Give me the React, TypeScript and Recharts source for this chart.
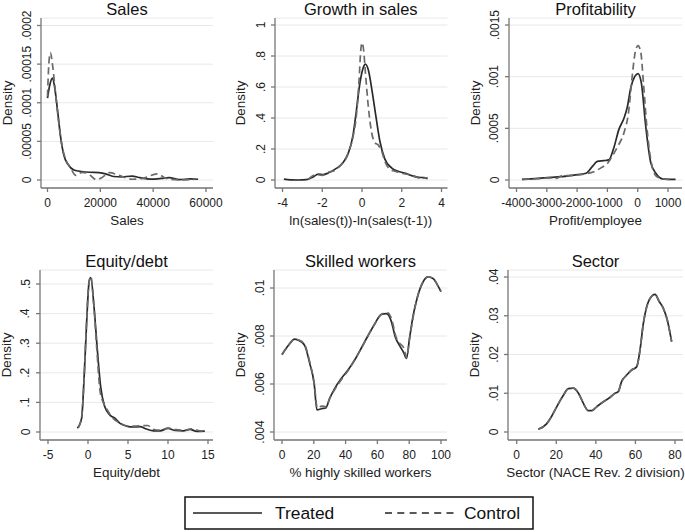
import { LineChart, Line, XAxis, YAxis, CartesianGrid } from 'recharts';

const FONT = '"Liberation Sans", Arial, Helvetica, sans-serif';

// density estimates: [x, density]
const salesTreated: [number, number][] = [
  [0, 0.000106], [800, 0.000122], [1900, 0.000132], [2800, 0.000118], [3800, 0.00009],
  [5000, 0.000055], [6200, 0.000032], [7800, 0.00002], [10000, 0.000013], [13000, 0.000011],
  [16000, 0.00001], [19500, 0.0000095], [22000, 0.000008], [25000, 0.0000045], [28000, 0.000004],
  [32000, 0.000005], [35000, 0.000003], [39000, 0.0000012], [43000, 0.000002], [46000, 0.000003],
  [50000, 0.0000005], [54000, 0.0000015], [57000, 0.000001],
];
const salesControl: [number, number][] = [
  [0, 0.000108], [500, 0.00015], [1100, 0.000165], [1800, 0.000152], [2700, 0.000124],
  [3900, 0.000085], [5200, 0.00005], [6800, 0.000027], [8500, 0.000017], [10800, 0.000006],
  [13000, 0.00001], [15500, 0.000008], [18500, 0.0000005], [20500, 0.000003], [23500, 0.0000095],
  [27000, 0.000006], [32000, 0.000001], [36000, 0.000002], [41500, 0.000008], [45000, 0.000002],
  [50000, 0.0000002], [56000, 0.000001],
];

const growthTreated: [number, number][] = [
  [-3.93, 0.006], [-3.6, 0.001], [-3.2, 0], [-2.8, 0.002], [-2.45, 0.02], [-2.2, 0.038],
  [-1.95, 0.035], [-1.7, 0.045], [-1.35, 0.07], [-1.0, 0.105], [-0.7, 0.17], [-0.45, 0.29],
  [-0.28, 0.45], [-0.1, 0.63], [0.05, 0.72], [0.17, 0.748], [0.32, 0.71], [0.5, 0.58],
  [0.7, 0.41], [0.9, 0.25], [1.15, 0.135], [1.5, 0.077], [1.85, 0.055], [2.2, 0.043],
  [2.5, 0.028], [2.85, 0.017], [3.1, 0.015], [3.3, 0.009],
];
const growthControl: [number, number][] = [
  [-2.7, 0.005], [-2.3, 0.035], [-2.0, 0.03], [-1.7, 0.05], [-1.4, 0.06], [-1.05, 0.1],
  [-0.7, 0.17], [-0.45, 0.28], [-0.28, 0.42], [-0.15, 0.64], [-0.06, 0.84], [0, 0.885],
  [0.07, 0.85], [0.18, 0.68], [0.32, 0.47], [0.48, 0.31], [0.65, 0.24], [0.82, 0.225],
  [0.98, 0.19], [1.15, 0.12], [1.4, 0.07], [1.7, 0.055], [2.05, 0.042], [2.35, 0.035],
  [2.7, 0.02], [3.0, 0.01], [3.3, 0.016],
];

const profitTreated: [number, number][] = [
  [-3820, 0.000007], [-3300, 0.000015], [-2880, 0.000026], [-2550, 0.000032], [-2100, 0.000048],
  [-1700, 0.000065], [-1500, 0.00013], [-1330, 0.00018], [-1120, 0.000187], [-950, 0.000195],
  [-790, 0.00031], [-620, 0.00049], [-450, 0.0006], [-340, 0.00071], [-230, 0.00089],
  [-100, 0.001], [10, 0.00103], [120, 0.00094], [265, 0.00052], [430, 0.00017],
  [600, 0.000065], [820, 0.00001], [1000, 0.000007], [1250, 0.000006],
];
const profitControl: [number, number][] = [
  [-3800, 0.000006], [-3300, 0.000012], [-2900, 0.00002], [-2700, 0.000015], [-2500, 0.00004],
  [-2100, 0.000045], [-1700, 0.00006], [-1450, 0.00008], [-1200, 0.00012], [-1000, 0.00016],
  [-800, 0.00025], [-650, 0.00033], [-450, 0.00046], [-300, 0.00066], [-190, 0.00098],
  [-80, 0.00124], [10, 0.0013], [100, 0.00124], [190, 0.00094], [300, 0.00052],
  [430, 0.0002], [600, 0.00004], [850, 0.00001], [1150, 0.000006],
];

const equityTreated: [number, number][] = [
  [-1.33, 0.0125], [-0.8, 0.046], [-0.5, 0.176], [-0.17, 0.37], [0.15, 0.51], [0.35, 0.522],
  [0.75, 0.423], [1.17, 0.277], [1.58, 0.153], [2.1, 0.085], [2.75, 0.057], [3.4, 0.046],
  [4.0, 0.029], [4.8, 0.02], [5.7, 0.017], [6.5, 0.018], [7.3, 0.01], [8.2, 0.004],
  [9.0, 0.004], [10.0, 0.012], [10.9, 0.005], [11.9, 0.004], [12.75, 0.009], [13.6, 0.002],
  [14.6, 0.003],
];
const equityControl: [number, number][] = [
  [-1.2, 0.015], [-0.8, 0.05], [-0.5, 0.17], [-0.2, 0.36], [0.1, 0.5], [0.35, 0.525],
  [0.7, 0.44], [1.1, 0.28], [1.5, 0.14], [1.9, 0.1], [2.4, 0.075], [3.0, 0.05], [4.0, 0.03],
  [5.0, 0.02], [6.0, 0.02], [7.5, 0.022], [8.0, 0.01], [9.0, 0.006], [10.0, 0.013],
  [11.0, 0.008], [12.0, 0.006], [13.0, 0.011], [14.0, 0.004], [14.8, 0.004],
];

const skilledTreated: [number, number][] = [
  [0, 0.00722], [3.8, 0.00759], [8, 0.00787], [11, 0.0078], [14.3, 0.0076], [17.4, 0.00687],
  [20.2, 0.00603], [22, 0.00492], [24.8, 0.00497], [27.5, 0.005], [30, 0.0054], [33, 0.0058],
  [37.3, 0.00623], [41.5, 0.00658], [45.7, 0.007], [49.9, 0.0075], [54, 0.008], [58.3, 0.0085],
  [62.5, 0.0089], [65.7, 0.00893], [68.8, 0.0086], [71.3, 0.00795], [74, 0.0076], [76.6, 0.0073],
  [78.3, 0.00707], [80.3, 0.00795], [82.5, 0.00886], [85.5, 0.0097], [88.7, 0.01025],
  [91.8, 0.01046], [95, 0.0104], [98, 0.0101], [100, 0.00985],
];
const skilledControl: [number, number][] = [
  [0, 0.00724], [4, 0.0076], [8, 0.00786], [11, 0.00782], [14.5, 0.0076], [17.5, 0.0069],
  [20.3, 0.006], [22.2, 0.005], [25, 0.00508], [27.7, 0.00505], [30, 0.0054], [33, 0.00575],
  [37.5, 0.0062], [41.5, 0.00655], [45.7, 0.007], [50, 0.0075], [54, 0.008], [58.3, 0.0085],
  [62.5, 0.0089], [66, 0.00898], [69, 0.0087], [71.5, 0.008], [74, 0.0077], [76.6, 0.0075],
  [78.3, 0.0071], [80.3, 0.0079], [82.5, 0.0088], [85.5, 0.0097], [88.7, 0.01025],
  [91.8, 0.01046], [95, 0.0104], [98, 0.0101], [100, 0.00985],
];

// treated and control lie on top of each other here
const sectorTreated: [number, number][] = [
  [10.9, 0.0007], [15.1, 0.0021], [17.6, 0.004], [20.2, 0.0065], [23.6, 0.0095], [26.1, 0.0112],
  [28.6, 0.0113], [31.2, 0.01], [33.7, 0.0074], [36.2, 0.0055], [37.9, 0.0055], [40.4, 0.0065],
  [43.8, 0.0078], [47.1, 0.0089], [49.7, 0.01], [51.3, 0.0104], [53, 0.013], [55.6, 0.0147],
  [58.1, 0.016], [60.6, 0.0168], [62.3, 0.0211], [64, 0.028], [65.7, 0.0323], [67.3, 0.0344],
  [69.9, 0.0355], [72.1, 0.0336], [74.1, 0.0319], [76.1, 0.0289], [78.3, 0.0233],
];
const sectorControl = sectorTreated;

const toPts = (arr: [number, number][]) => arr.map(([x, y]) => ({ x, y }));
const dotFmt = (v: number) => (v === 0 ? '0' : String(v).replace(/^(-?)0\./, '$1.'));
const lin = (c: number[], p: number) => c[0] + ((p - c[1]) * (c[2] - c[0])) / (c[3] - c[1]);

const panels = [
  {
    title: 'Sales', xLabel: 'Sales', treated: salesTreated, control: salesControl,
    xTicks: [0, 20000, 40000, 60000], yTicks: [0, 0.00005, 0.0001, 0.00015, 0.0002],
    box: { x0: 41, x1: 213, y0: 18, y1: 188 }, xCal: [0, 47.5, 60000, 206], yCal: [0, 180, 0.0002, 25.5],
  },
  {
    title: 'Growth in sales', xLabel: 'ln(sales(t))-ln(sales(t-1))', treated: growthTreated, control: growthControl,
    xTicks: [-4, -2, 0, 2, 4], yTicks: [0, 0.2, 0.4, 0.6, 0.8, 1],
    box: { x0: 274.5, x1: 447, y0: 18, y1: 188 }, xCal: [-4, 282, 4, 441], yCal: [0, 180, 1, 25],
  },
  {
    title: 'Profitability', xLabel: 'Profit/employee', treated: profitTreated, control: profitControl,
    xTicks: [-4000, -3000, -2000, -1000, 0, 1000], yTicks: [0, 0.0005, 0.001, 0.0015],
    box: { x0: 509, x1: 682, y0: 18, y1: 188 }, xCal: [-4000, 516.5, 1000, 668], yCal: [0, 180, 0.0015, 25],
  },
  {
    title: 'Equity/debt', xLabel: 'Equity/debt', treated: equityTreated, control: equityControl,
    xTicks: [-5, 0, 5, 10, 15], yTicks: [0, 0.1, 0.2, 0.3, 0.4, 0.5],
    box: { x0: 40, x1: 213, y0: 270, y1: 440 }, xCal: [-5, 48, 15, 208], yCal: [0, 432, 0.5, 284],
  },
  {
    title: 'Skilled workers', xLabel: '% highly skilled workers', treated: skilledTreated, control: skilledControl,
    xTicks: [0, 20, 40, 60, 80, 100], yTicks: [0.004, 0.006, 0.008, 0.01],
    box: { x0: 274, x1: 447, y0: 270, y1: 440 }, xCal: [0, 282, 100, 441], yCal: [0.004, 432, 0.01, 288],
  },
  {
    title: 'Sector', xLabel: 'Sector (NACE Rev. 2 division)', treated: sectorTreated, control: sectorControl,
    xTicks: [0, 20, 40, 60, 80], yTicks: [0, 0.01, 0.02, 0.03, 0.04],
    box: { x0: 508, x1: 683, y0: 270, y1: 440 }, xCal: [0, 516.7, 80, 675], yCal: [0, 432, 0.04, 277],
  },
];

function RotTick(props: any) {
  const { x, y, payload } = props;
  return (
    <text x={x} y={y} transform={`rotate(-90 ${x} ${y})`} textAnchor="middle" fontSize={12} fill="#222" fontFamily={FONT}>
      {dotFmt(payload.value)}
    </text>
  );
}

const PAD_L = 40;
const PAD_T = 18;
const PAD_R = 20;
const PAD_B = 25;

function Panel({ p }: { p: (typeof panels)[number] }) {
  const { x0, x1, y0, y1 } = p.box;
  const xDomain = [lin(p.xCal, x0), lin(p.xCal, x1)];
  const yDomain = [lin(p.yCal, y1), lin(p.yCal, y0)];
  return (
    <div style={{ position: 'absolute', left: x0 - PAD_L, top: y0 - PAD_T }}>
      <LineChart
        width={x1 - x0 + PAD_L + PAD_R}
        height={y1 - y0 + PAD_T + PAD_B}
        margin={{ top: PAD_T, right: PAD_R, left: 0, bottom: 0 }}
      >
        <CartesianGrid vertical={false} stroke="#e8e8e8" />
        <XAxis
          type="number" dataKey="x" domain={xDomain} ticks={p.xTicks} allowDataOverflow interval={0}
          height={PAD_B} tickSize={4} tickMargin={6} stroke="#777" strokeWidth={1.3}
          tick={{ fontSize: 12, fill: '#222', fontFamily: FONT }}
        />
        <YAxis
          type="number" dataKey="y" domain={yDomain} ticks={p.yTicks} allowDataOverflow interval={0}
          width={PAD_L} tickSize={4} tickMargin={6.5} stroke="#777" strokeWidth={1.3} tick={<RotTick />}
        />
        <Line data={toPts(p.treated)} dataKey="y" type="monotone" stroke="#2a2a2a" strokeWidth={1.7} dot={false} isAnimationActive={false} />
        <Line data={toPts(p.control)} dataKey="y" type="monotone" stroke="#6a6a6a" strokeWidth={1.7} strokeDasharray="7 4" dot={false} isAnimationActive={false} />
      </LineChart>
    </div>
  );
}

export default function App() {
  return (
    <div style={{ position: 'absolute', left: 0, top: 0, width: 685, height: 532, background: '#fff', fontFamily: FONT }}>
      {panels.map((p) => (
        <Panel key={p.title} p={p} />
      ))}
      <svg width={685} height={532} style={{ position: 'absolute', left: 0, top: 0, pointerEvents: 'none' }} fontFamily={FONT}>
        {panels.map((p) => {
          const { x0, x1, y0, y1 } = p.box;
          const cx = (x0 + x1) / 2;
          const cy = (y0 + y1) / 2;
          const lx = x0 - 29.5;
          return (
            <g key={p.title}>
              <text x={cx} y={y0 - 3.5} textAnchor="middle" fontSize={16.5} fill="#111">{p.title}</text>
              <text x={cx} y={y1 + 37} textAnchor="middle" fontSize={13.4} fill="#222">{p.xLabel}</text>
              <text x={lx} y={cy} transform={`rotate(-90 ${lx} ${cy})`} textAnchor="middle" fontSize={13.4} fill="#222">Density</text>
            </g>
          );
        })}
        <rect x={185} y={497} width={348} height={32} fill="none" stroke="#111" strokeWidth={1.5} />
        <line x1={193} x2={262} y1={513} y2={513} stroke="#222" strokeWidth={1.4} />
        <text x={275} y={519} fontSize={17.4} fill="#111">Treated</text>
        <line x1={385} x2={455} y1={513} y2={513} stroke="#222" strokeWidth={1.4} strokeDasharray="7 5.3" />
        <text x={464} y={519} fontSize={17.4} fill="#111">Control</text>
      </svg>
    </div>
  );
}
